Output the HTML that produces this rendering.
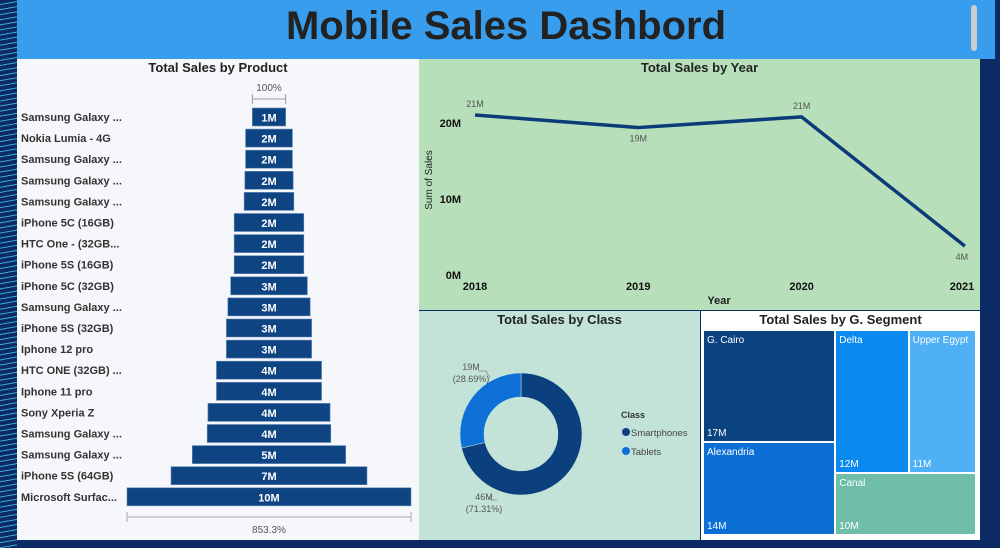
<!DOCTYPE html>
<html><head><meta charset="utf-8"><style>
body{margin:0;width:1000px;height:548px;overflow:hidden;background:#0c2a63;font-family:"Liberation Sans",sans-serif;position:relative}
.abs{position:absolute}
.ttl{position:absolute;font-weight:bold;font-size:13px;color:#222;text-align:center}
</style></head><body>
<div class="abs" style="left:0;top:0;width:17px;height:548px;background:repeating-linear-gradient(170deg,#0c2a63 0 4px,#3aa7d8 4px 5px)"></div>
<div class="abs" style="left:17px;top:0;width:978px;height:59px;background:#389ded"></div>
<div class="abs" style="left:17px;top:4px;width:978px;text-align:center;font-size:40px;font-weight:bold;color:#222">Mobile Sales Dashbord</div>
<div class="abs" style="left:971px;top:5px;width:6px;height:46px;background:#ccc;border-radius:3px"></div>

<div class="abs" style="left:17px;top:59px;width:402px;height:481px;background:#f5f7fa"></div>
<div class="ttl" style="left:17px;top:60px;width:402px">Total Sales by Product</div>
<svg class="abs" id="funnel" style="left:0;top:0" width="420" height="548"></svg>

<div class="abs" style="left:419px;top:59px;width:561px;height:251px;background:#b6dfba"></div>
<div class="ttl" style="left:419px;top:60px;width:561px">Total Sales by Year</div>
<svg class="abs" id="line" style="left:0;top:0" width="1000" height="310"></svg>

<div class="abs" style="left:419px;top:311px;width:281px;height:229px;background:#c3e3d9"></div>
<div class="ttl" style="left:419px;top:312px;width:281px">Total Sales by Class</div>
<svg class="abs" id="donut" style="left:0;top:0" width="700" height="548"></svg>

<div class="abs" style="left:701px;top:311px;width:279px;height:229px;background:#fff"></div>
<div class="ttl" style="left:701px;top:312px;width:279px">Total Sales by G. Segment</div>
<div class="abs" id="tree" style="left:0;top:0"></div>
<div class="abs" style="left:980px;top:59px;width:20px;height:489px;background:#0c2a63"></div>

<script>
const NS="http://www.w3.org/2000/svg";
function mk(p,t,a,txt){const e=document.createElementNS(NS,t);for(const k in a)e.setAttribute(k,a[k]);if(txt!=null)e.textContent=txt;p.appendChild(e);return e;}

// Funnel
const products=["Samsung Galaxy ...","Nokia Lumia - 4G","Samsung Galaxy ...","Samsung Galaxy ...","Samsung Galaxy ...","iPhone 5C (16GB)","HTC One - (32GB...","iPhone 5S (16GB)","iPhone 5C (32GB)","Samsung Galaxy ...","iPhone 5S (32GB)","Iphone 12 pro","HTC ONE (32GB) ...","Iphone 11 pro","Sony Xperia Z","Samsung Galaxy ...","Samsung Galaxy ...","iPhone 5S (64GB)","Microsoft Surfac..."];
const productSales=[1.1719,1.65,1.65,1.7,1.75,2.45,2.45,2.45,2.7,2.9,3.0,3.0,3.7,3.7,4.3,4.35,5.4,6.9,10.0];
const fs=document.getElementById('funnel');
const fMax=Math.max(...productSales);
const fx=v=>v/fMax*284, fcx=269, fy=i=>108+i*21.1;
productSales.forEach((v,i)=>{
 const w=fx(v);
 const r=mk(fs,'rect',{x:fcx-w/2,y:fy(i),width:w,height:18,fill:'#0d4481',stroke:'#5f86b8','stroke-width':0.6});
 
 
 const t=mk(fs,'text',{x:fcx,y:fy(i)+13.5,'text-anchor':'middle','font-size':11,'font-weight':'bold',fill:'#fff'},Math.round(v)+'M');
 
 
 const l=mk(fs,'text',{x:21,y:fy(i)+13,'font-size':11,'font-weight':'bold',fill:'#333'},products[i]);
 
 
});
const w0=fx(productSales[0]);
mk(fs,'path',{d:`M${fcx-w0/2} 94v10M${fcx-w0/2} 99H${fcx+w0/2}M${fcx+w0/2} 94v10`,stroke:'#999',fill:'none'});
mk(fs,'text',{x:fcx,y:91,'text-anchor':'middle','font-size':10,fill:'#555'},'100%');
const wl=fx(fMax);
mk(fs,'path',{d:`M${fcx-wl/2} 512v10M${fcx-wl/2} 517H${fcx+wl/2}M${fcx+wl/2} 512v10`,stroke:'#aaa',fill:'none'});
mk(fs,'text',{x:fcx,y:533,'text-anchor':'middle','font-size':10,fill:'#555'},(fMax/productSales[0]*100).toFixed(1)+'%');

// Line
const years=["2018","2019","2020","2021"];
const yearSales=[21.05,19.4,20.8,3.8];
const yTicks=[0,10,20];
const ls=document.getElementById('line');
const lx=i=>475+i*163.3, ly=v=>275-v*7.6;
yTicks.forEach(t=>{mk(ls,'text',{x:461,y:ly(t)+4,'text-anchor':'end','font-size':11,'font-weight':'bold',fill:'#111'},t+'M');});
years.forEach((y,i)=>{const t=mk(ls,'text',{x:i==3?962:lx(i),y:290,'text-anchor':'middle','font-size':11,'font-weight':'bold',fill:'#111'},y);
 });
mk(ls,'text',{x:719,y:304,'text-anchor':'middle','font-size':11,'font-weight':'bold',fill:'#222'},'Year');
mk(ls,'text',{x:432,y:180,'text-anchor':'middle','font-size':10,fill:'#222',transform:'rotate(-90 432 180)'},'Sum of Sales');
const pl=mk(ls,'polyline',{points:yearSales.map((v,i)=>lx(i)+','+ly(v)).join(' '),fill:'none',stroke:'#0d3a78','stroke-width':3.5,'stroke-linejoin':'round'});


yearSales.forEach((v,i)=>{const up=i==0||i==2;mk(ls,'text',{x:lx(i)+(i==3?-3:0),y:up?ly(v)-8:ly(v)+14,'text-anchor':'middle','font-size':9,fill:'#555'},Math.round(v)+'M');});

// Donut
const classes=["Smartphones","Tablets"];
const classSales=[46.1,18.55];
const classColors=["#0b3f7e","#0e6fd6"];
const ds=document.getElementById('donut');
const cx=521,cy=434,R=61,r=37;
const tot=classSales.reduce((a,b)=>a+b,0);
let ang=0;
classSales.forEach((v,i)=>{
 const a0=ang,a1=ang+v/tot*2*Math.PI;ang=a1;
 const p=(a,rr)=>[cx+rr*Math.sin(a),cy-rr*Math.cos(a)];
 const [x0,y0]=p(a0,R),[x1,y1]=p(a1,R),[x2,y2]=p(a1,r),[x3,y3]=p(a0,r);
 const lg=a1-a0>Math.PI?1:0;
 const s=mk(ds,'path',{d:`M${x0} ${y0}A${R} ${R} 0 ${lg} 1 ${x1} ${y1}L${x2} ${y2}A${r} ${r} 0 ${lg} 0 ${x3} ${y3}Z`,fill:classColors[i],stroke:'#c3e3d9','stroke-width':0.5});
 
 
});
mk(ds,'path',{d:'M478 371h8l4 7',stroke:'#999',fill:'none'});
mk(ds,'text',{x:471,y:370,'text-anchor':'middle','font-size':9,fill:'#555'},Math.round(classSales[1])+'M');
mk(ds,'text',{x:471,y:382,'text-anchor':'middle','font-size':9,fill:'#555'},'('+(classSales[1]/tot*100).toFixed(2)+'%)');
mk(ds,'path',{d:'M497 500h-6l-2-4',stroke:'#999',fill:'none'});
mk(ds,'text',{x:484,y:500,'text-anchor':'middle','font-size':9,fill:'#555'},Math.round(classSales[0])+'M');
mk(ds,'text',{x:484,y:512,'text-anchor':'middle','font-size':9,fill:'#555'},'('+(classSales[0]/tot*100).toFixed(2)+'%)');
mk(ds,'text',{x:621,y:418,'font-size':9,'font-weight':'bold',fill:'#333'},'Class');
classes.forEach((c,i)=>{
 const g=mk(ds,'g',{});
 
 
 mk(g,'circle',{cx:626,cy:432+i*19,r:4,fill:classColors[i]});
 mk(g,'text',{x:631,y:436+i*19,'font-size':9.5,fill:'#444'},c);
});

// Treemap
const segments=["G. Cairo","Alexandria","Delta","Upper Egypt","Canal"];
const segmentSales=[17,14,12,11,10];
const segColors=["#0b4381","#0b6fd6","#0a8af0","#4fb0f5","#6fbfa8"];
const tree=document.getElementById('tree');
const X0=704,Y0=331,W=273,H=205,gap=2;
const total=segmentSales.reduce((a,b)=>a+b,0);
const c1=segmentSales[0]+segmentSales[1], c2=total-c1;
const w1=W*c1/total;
const h1=H*segmentSales[0]/c1;
const topRow=segmentSales[2]+segmentSales[3];
const h2=H*topRow/c2;
const wD=(W-w1)*segmentSales[2]/topRow;
const rects=[[X0,Y0,w1,h1],[X0,Y0+h1,w1,H-h1],[X0+w1,Y0,wD,h2],[X0+w1+wD,Y0,W-w1-wD,h2],[X0+w1,Y0+h2,W-w1,H-h2]];
rects.forEach((rc,i)=>{
 const d=document.createElement('div');
 
 
 d.style.cssText=`position:absolute;left:${rc[0]}px;top:${rc[1]}px;width:${rc[2]-gap}px;height:${rc[3]-gap}px;background:${segColors[i]};color:#fff;font-size:10px`;
 d.innerHTML=`<div style="position:absolute;left:3px;top:4px">${segments[i]}</div><div style="position:absolute;left:3px;bottom:2px">${segmentSales[i]}M</div>`;
 tree.appendChild(d);
});
</script>
</body></html>
